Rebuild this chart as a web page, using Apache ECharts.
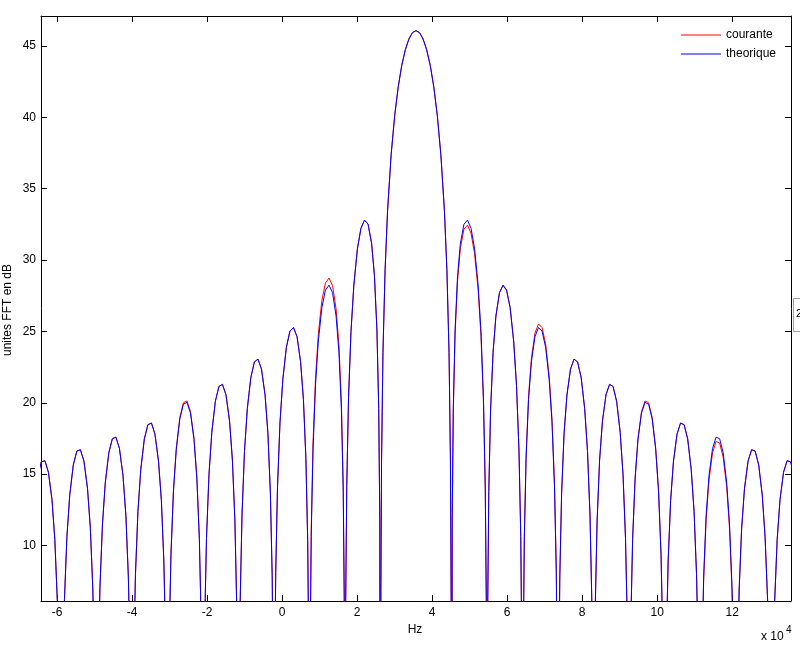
<!DOCTYPE html>
<html>
<head>
<meta charset="utf-8">
<script src="https://cdn.jsdelivr.net/npm/echarts@6/dist/echarts.min.js"></script>
<style>
html,body{margin:0;padding:0;background:#fff;}
#chart{width:800px;height:646px;}
</style>
</head>
<body>
<div id="chart"></div>
<script>
// Frequency (x 10^4 Hz)
const freq = [
-6.516,-6.421,-6.326,-6.232,-6.137,-6.061,-5.995,-5.947,-5.900,
-5.853,-5.805,-5.739,-5.663,-5.569,-5.474,-5.379,-5.285,-5.190,-5.114,-5.048,-5.000,-4.953,
-4.906,-4.858,-4.792,-4.716,-4.622,-4.527,-4.432,-4.338,-4.243,-4.167,-4.101,-4.053,-4.006,
-3.959,-3.911,-3.845,-3.769,-3.675,-3.580,-3.485,-3.391,-3.296,-3.220,-3.154,-3.106,-3.059,
-3.012,-2.964,-2.898,-2.822,-2.728,-2.633,-2.538,-2.444,-2.349,-2.273,-2.207,-2.159,-2.112,
-2.065,-2.017,-1.951,-1.875,-1.781,-1.686,-1.591,-1.497,-1.402,-1.326,-1.260,-1.212,-1.165,
-1.146,-1.118,-1.070,-1.004,-0.928,-0.834,-0.739,-0.644,-0.550,-0.455,-0.379,-0.313,-0.265,-0.237,-0.218,
-0.199,-0.171,-0.123,-0.057,0.019,0.113,0.208,0.303,0.398,0.492,0.568,0.634,0.682,0.710,0.729,
0.748,0.776,0.824,0.890,0.966,1.060,1.155,1.250,1.345,1.439,1.515,1.581,1.629,1.657,1.676,
1.695,1.724,1.771,1.837,1.913,2.007,2.102,2.197,2.291,2.386,2.462,2.528,2.576,2.604,2.623,
2.632,2.651,2.689,2.746,2.812,2.907,3.002,3.097,3.191,3.286,3.381,3.475,3.570,3.665,3.759,3.854,3.949,4.044,4.138,4.233,4.328,4.394,4.451,4.489,4.508,4.517,
4.536,4.564,4.612,4.678,4.754,4.849,4.943,5.038,5.133,5.227,5.303,5.369,5.417,5.445,5.464,
5.483,5.511,5.559,5.625,5.701,5.796,5.890,5.985,6.080,6.174,6.250,6.316,6.364,6.392,6.411,
6.430,6.458,6.506,6.572,6.648,6.743,6.837,6.932,7.027,7.121,7.197,7.263,7.311,7.339,7.358,
7.377,7.405,7.453,7.519,7.595,7.690,7.784,7.879,7.974,8.068,8.144,8.210,8.258,8.286,8.305,
8.352,8.400,8.466,8.542,8.637,8.731,8.826,8.921,9.015,9.091,9.157,9.205,9.252,
9.299,9.347,9.413,9.489,9.584,9.678,9.773,9.868,9.962,10.038,10.104,10.152,10.199,
10.246,10.294,10.360,10.436,10.531,10.625,10.720,10.815,10.909,10.985,11.051,11.099,11.146,
11.193,11.241,11.307,11.383,11.478,11.572,11.667,11.762,11.856,11.932,11.998,12.046,12.093,
12.140,12.188,12.254,12.330,12.425,12.519,12.614,12.709,12.803,12.879,12.945,12.993,13.040,
13.087,13.135,13.201,13.277,13.371,13.466,13.561,13.656
];

// theorique (dB)
const theorique = [
14.88,15.86,15.94,15.13,13.21,10.41,6.14,0.28,-20,
0.26,6.22,10.61,13.54,15.64,16.62,16.71,15.91,14.00,11.21,6.95,1.09,-20,
1.08,7.04,11.44,14.38,16.49,17.48,17.59,16.80,14.89,12.12,7.86,2.00,-20,
2.01,7.98,12.39,15.33,17.46,18.46,18.58,17.80,15.91,13.15,8.91,3.06,-20,
3.38,9.35,13.77,16.73,18.87,19.90,20.03,19.28,17.40,14.65,10.42,4.59,-20,
4.53,10.51,14.95,17.93,20.09,21.14,21.29,20.56,18.72,15.99,11.78,5.95,-20,
-1.86,6.13,12.13,16.58,19.59,21.78,22.86,23.06,22.36,20.55,17.86,13.67,7.87,0.01,-20,
0.09,8.09,14.11,18.60,21.64,23.88,25.02,25.27,24.63,22.88,20.24,16.10,10.33,2.49,-20,
2.61,10.62,16.68,21.22,24.33,26.67,27.89,28.24,27.71,26.08,23.53,19.49,13.79,5.98,-20,
6.16,14.22,20.36,25.01,28.26,30.78,32.22,32.80,32.52,31.18,28.90,25.10,19.60,11.92,-20,
6.16,15.86,23.53,29.32,33.45,37.38,40.13,42.15,43.65,44.74,45.49,45.93,46.07,45.93,45.49,44.74,43.65,42.15,40.13,37.38,33.45,29.32,23.53,15.86,6.16,-20,
11.92,19.60,25.10,28.90,31.18,32.52,32.80,32.22,30.78,28.26,25.01,20.36,14.22,6.16,-20,
5.98,13.79,19.49,23.53,26.08,27.71,28.24,27.89,26.67,24.33,21.22,16.68,10.62,2.61,-20,
2.49,10.33,16.10,20.24,22.88,24.63,25.27,25.02,23.88,21.64,18.60,14.11,8.09,0.09,-20,
0.01,7.87,13.67,17.86,20.55,22.36,23.06,22.86,21.78,19.59,16.58,12.13,6.13,-1.86,-20,
5.95,11.78,15.99,18.72,20.56,21.29,21.14,20.09,17.93,14.95,10.51,4.53,-20,
4.59,10.42,14.65,17.40,19.28,20.03,19.90,18.87,16.73,13.77,9.35,3.38,-20,
3.06,8.91,13.15,15.91,17.80,18.58,18.46,17.46,15.33,12.39,7.98,2.01,-20,
2.00,7.86,12.12,14.89,16.80,17.59,17.48,16.49,14.38,11.44,7.04,1.08,-20,
1.09,6.95,11.21,14.00,15.91,16.71,16.62,15.64,13.54,10.61,6.22,0.26,-20,
0.28,6.14,10.41,13.21,15.13,15.94,15.86,14.88
];

// courante (dB)
const courante = [
14.88,15.86,15.94,15.13,13.21,10.41,6.14,0.28,-20,
0.26,6.22,10.61,13.54,15.64,16.62,16.71,15.91,14.00,11.21,6.95,1.09,-20,
1.08,7.04,11.44,14.38,16.49,17.48,17.59,16.80,14.89,12.12,7.86,2.00,-20,
2.01,7.98,12.39,15.33,17.46,18.46,18.58,17.80,15.91,13.15,8.91,3.06,-20,
3.48,9.45,13.87,16.83,18.97,20.00,20.13,19.38,17.50,14.75,10.52,4.69,-20,
4.53,10.51,14.95,17.93,20.09,21.14,21.29,20.56,18.72,15.99,11.78,5.95,-20,
-1.86,6.13,12.13,16.58,19.59,21.78,22.86,23.06,22.36,20.55,17.86,13.67,7.87,0.01,-20,
0.09,8.09,14.11,18.60,21.64,23.88,25.02,25.27,24.63,22.88,20.24,16.10,10.33,2.49,-20,
3.11,11.12,17.18,21.72,24.83,27.17,28.39,28.74,28.21,26.58,24.03,19.99,14.29,6.48,-20,
6.16,14.22,20.36,25.01,28.26,30.78,32.22,32.80,32.52,31.18,28.90,25.10,19.60,11.92,-20,
6.16,15.86,23.53,29.32,33.45,37.38,40.13,42.15,43.65,44.74,45.49,45.93,46.07,45.93,45.49,44.74,43.65,42.15,40.13,37.38,33.45,29.32,23.53,15.86,6.16,-20,
11.57,19.25,24.75,28.55,30.83,32.17,32.45,31.87,30.43,27.91,24.66,20.01,13.87,5.81,-20,
5.98,13.79,19.49,23.53,26.08,27.71,28.24,27.89,26.67,24.33,21.22,16.68,10.62,2.61,-20,
2.74,10.58,16.35,20.49,23.13,24.88,25.52,25.27,24.13,21.89,18.85,14.36,8.34,0.34,-20,
0.01,7.87,13.67,17.86,20.55,22.36,23.06,22.86,21.78,19.59,16.58,12.13,6.13,-1.86,-20,
5.95,11.78,15.99,18.72,20.56,21.29,21.14,20.09,17.93,14.95,10.51,4.53,-20,
4.69,10.52,14.75,17.50,19.38,20.13,20.00,18.97,16.83,13.87,9.45,3.48,-20,
3.06,8.91,13.15,15.91,17.80,18.58,18.46,17.46,15.33,12.39,7.98,2.01,-20,
1.70,7.56,11.82,14.59,16.50,17.29,17.18,16.19,14.08,11.14,6.74,0.78,-20,
1.09,6.95,11.21,14.00,15.91,16.71,16.62,15.64,13.54,10.61,6.22,0.26,-20,
0.28,6.14,10.41,13.21,15.13,15.94,15.86,14.88
];

const xTicks = [-6, -4, -2, 0, 2, 4, 6, 8, 10, 12];
const yTicks = [10, 15, 20, 25, 30, 35, 40, 45];
const xRange = [-6.43, 13.57];
const yRange = [6.11, 47.1];
const seriesNames = ['courante', 'theorique'];

const FONT = '"Liberation Sans", Arial, Helvetica, sans-serif';

function mkX(pos, showLabel) {
  return {
    type: 'value', position: pos, min: xRange[0], max: xRange[1],
    axisLine: { show: true, onZero: false, lineStyle: { color: '#000', width: 1 } },
    axisTick: { show: true, inside: true, length: 6, customValues: xTicks, lineStyle: { color: '#000' } },
    axisLabel: { show: showLabel, customValues: xTicks, color: '#000', fontSize: 12, fontFamily: FONT, margin: 6 },
    splitLine: { show: false }
  };
}
function mkY(pos, showLabel) {
  return {
    type: 'value', position: pos, min: yRange[0], max: yRange[1],
    axisLine: { show: true, onZero: false, lineStyle: { color: '#000', width: 1 } },
    axisTick: { show: true, inside: true, length: 6, customValues: yTicks, lineStyle: { color: '#000' } },
    axisLabel: { show: showLabel, customValues: yTicks, color: '#000', fontSize: 12, fontFamily: FONT, margin: 5 },
    splitLine: { show: false }
  };
}

const chart = echarts.init(document.getElementById('chart'), null, { renderer: 'canvas' });
chart.setOption({
  animation: false,
  backgroundColor: '#fff',
  grid: { left: 41, right: 9, top: 16, bottom: 45, containLabel: false },
  xAxis: [mkX('bottom', true), mkX('top', false)],
  yAxis: [mkY('left', true), mkY('right', false)],
  legend: {
    orient: 'vertical', left: 681, top: 28, padding: 0,
    icon: 'rect', itemWidth: 40, itemHeight: 1, itemGap: 5,
    textStyle: { color: '#000', fontSize: 12, fontFamily: FONT, lineHeight: 14 },
    data: seriesNames
  },
  series: [
    {
      name: seriesNames[0], type: 'line', xAxisIndex: 0, yAxisIndex: 0,
      data: freq.map((f, i) => [f, courante[i]]),
      symbol: 'none', showSymbol: false, clip: true,
      lineStyle: { color: '#ff0000', width: 1 }, itemStyle: { color: '#ff0000' }
    },
    {
      name: seriesNames[1], type: 'line', xAxisIndex: 0, yAxisIndex: 0,
      data: freq.map((f, i) => [f, theorique[i]]),
      symbol: 'none', showSymbol: false, clip: true,
      lineStyle: { color: '#0000ff', width: 1 }, itemStyle: { color: '#0000ff' }
    }
  ],
  graphic: [
    { type: 'text', x: 415, y: 630, style: { text: 'Hz', fill: '#000', font: '12px ' + FONT, textAlign: 'center', textVerticalAlign: 'middle' } },
    { type: 'text', x: 8, y: 310, rotation: Math.PI / 2, style: { text: 'unites FFT en dB', fill: '#000', font: '12px ' + FONT, textAlign: 'center', textVerticalAlign: 'middle' } },
    { type: 'text', x: 761, y: 637, style: { text: 'x 10', fill: '#000', font: '12px ' + FONT, textAlign: 'left', textVerticalAlign: 'middle' } },
    { type: 'text', x: 786, y: 630, style: { text: '4', fill: '#000', font: '10px ' + FONT, textAlign: 'left', textVerticalAlign: 'middle' } },
    { type: 'rect', shape: { x: 793.5, y: 298.5, width: 10, height: 33 }, style: { fill: '#fff', stroke: '#a0a0a0', lineWidth: 1 } },
    { type: 'text', x: 796, y: 314, style: { text: '2', fill: '#000', font: '11px ' + FONT, textAlign: 'left', textVerticalAlign: 'middle' } }
  ]
});
</script>
</body>
</html>
